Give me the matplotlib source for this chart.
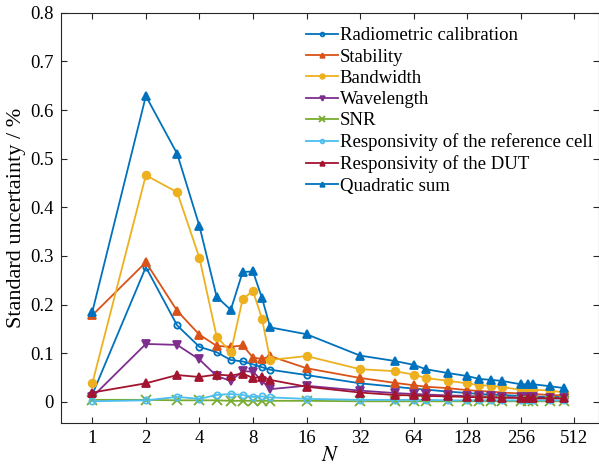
import numpy as np
import matplotlib.pyplot as plt

plt.rcParams["font.family"] = ["Liberation Serif", "DejaVu Serif"]
plt.rcParams["mathtext.fontset"] = "stix"

N = [1, 2, 3, 4, 5, 6, 7, 8, 9, 10, 16, 32, 50, 64, 75, 100, 128, 150, 175,
     200, 256, 280, 300, 375, 450]

radiometric = [0.015, 0.277, 0.157, 0.113, 0.102, 0.086, 0.083, 0.077, 0.071,
               0.066, 0.055, 0.038, 0.031, 0.027, 0.025, 0.021, 0.018, 0.016,
               0.015, 0.014, 0.012, 0.012, 0.011, 0.010, 0.010]
stability = [0.178, 0.287, 0.187, 0.138, 0.115, 0.113, 0.116, 0.091, 0.088,
             0.094, 0.069, 0.049, 0.039, 0.034, 0.031, 0.028, 0.024, 0.022,
             0.021, 0.019, 0.017, 0.017, 0.016, 0.014, 0.013]
bandwidth = [0.038, 0.466, 0.431, 0.296, 0.134, 0.102, 0.211, 0.228, 0.170,
             0.086, 0.094, 0.067, 0.063, 0.056, 0.049, 0.043, 0.038, 0.034,
             0.033, 0.030, 0.025, 0.025, 0.025, 0.023, 0.019]
wavelength = [0.010, 0.119, 0.117, 0.087, 0.053, 0.043, 0.063, 0.062, 0.043,
              0.026, 0.033, 0.023, 0.018, 0.016, 0.015, 0.013, 0.012, 0.011,
              0.011, 0.010, 0.009, 0.009, 0.009, 0.008, 0.008]
snr = [0.004, 0.004, 0.003, 0.003, 0.003, 0.002, 0.002, 0.002, 0.002, 0.002,
       0.002, 0.001, 0.001, 0.001, 0.001, 0.001, 0.001, 0.001, 0.001, 0.001,
       0.001, 0.001, 0.001, 0.001, 0.001]
ref_cell = [0.001, 0.003, 0.010, 0.006, 0.014, 0.016, 0.014, 0.010, 0.011,
            0.009, 0.006, 0.004, 0.004, 0.004, 0.004, 0.003, 0.003, 0.003,
            0.003, 0.003, 0.003, 0.003, 0.003, 0.003, 0.003]
dut = [0.019, 0.038, 0.055, 0.051, 0.056, 0.054, 0.058, 0.049, 0.051, 0.045,
       0.031, 0.019, 0.014, 0.013, 0.012, 0.011, 0.010, 0.009, 0.009, 0.008,
       0.008, 0.008, 0.007, 0.007, 0.007]
quad_sum = [0.185, 0.629, 0.510, 0.3615, 0.216, 0.189, 0.267, 0.268, 0.213,
            0.153, 0.139, 0.095, 0.084, 0.076, 0.067, 0.059, 0.053, 0.047,
            0.045, 0.043, 0.036, 0.036, 0.036, 0.032, 0.028]

xticks = [1, 2, 4, 8, 16, 32, 64, 128, 256, 512]

series = [
    ("Radiometric calibration", radiometric, "#0072BD", "o", "none", 4.5),
    ("Stability", stability, "#D95319", "^", None, 5.5),
    ("Bandwidth", bandwidth, "#EDB120", "o", None, 5.5),
    ("Wavelength", wavelength, "#7E2F8E", "v", None, 5.5),
    ("SNR", snr, "#77AC30", "x", None, 7),
    ("Responsivity of the reference cell", ref_cell, "#4DBEEE", "o", "none", 4.5),
    ("Responsivity of the DUT", dut, "#A2142F", "^", None, 5.5),
    ("Quadratic sum", quad_sum, "#0072BD", "^", None, 5.5),
]

fig = plt.figure(figsize=(5.99, 4.76), dpi=100)
ax = fig.add_axes([0.1013, 0.112, 0.8987, 0.861])

for label, vals, col, mk, mfc, ms in series:
    kw = {}
    if mfc is not None:
        kw["markerfacecolor"] = mfc
    ax.plot(N, vals, color=col, marker=mk, markersize=ms, lw=1.3,
            markeredgewidth=1.3, label=label, **kw)

ax.set_xscale("log", base=2)
ax.set_xlim(0.664, 705)
ax.set_ylim(-0.043, 0.8)
ax.set_xticks(xticks)
ax.set_xticklabels([str(t) for t in xticks])
ax.minorticks_off()
ax.set_yticks(np.arange(0, 0.81, 0.1))
ax.set_yticklabels(["0"] + ["%.1f" % v for v in np.arange(0.1, 0.81, 0.1)])
ax.tick_params(direction="in", top=True, right=True, labelsize=13.5,
               length=4, width=0.8, colors="#262626", labelcolor="black",
               pad=5)
for sp in ax.spines.values():
    sp.set_color("#262626")
    sp.set_linewidth(0.8)

ax.set_xlabel("$N$", fontsize=16, labelpad=0)
ax.set_ylabel("Standard uncertainty / %", fontsize=16, labelpad=3)

ax.legend(loc="upper left", bbox_to_anchor=(0.442, 0.983), frameon=False,
          fontsize=13.5, handlelength=1.7, handletextpad=0.1,
          labelspacing=0.22, borderaxespad=0, markerscale=0.6)

fig.savefig("out.png", dpi=100)
